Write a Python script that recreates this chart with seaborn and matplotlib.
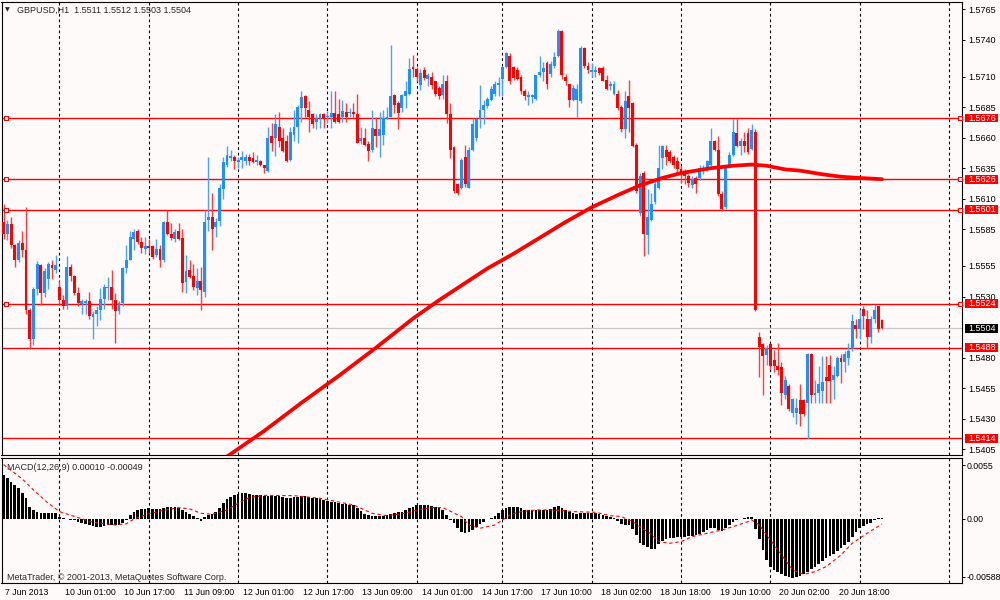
import numpy as np
import pandas as pd
import seaborn as sns
import matplotlib
matplotlib.use("Agg")
import matplotlib.pyplot as plt
import matplotlib.transforms as mtrans
from matplotlib.patches import Rectangle

# ---- data (GBPUSD H1, one value per hourly bar) ----
opens = [1.5591, 1.5581, 1.5589, 1.5572, 1.5560, 1.5574, 1.5568, 1.5519, 1.5495, 1.5536,
         1.5556, 1.5533, 1.5544, 1.5556, 1.5552, 1.5538, 1.5527, 1.5522, 1.5554, 1.5547,
         1.5533, 1.5524, 1.5525, 1.5526, 1.5513, 1.5516, 1.5519, 1.5528, 1.5537, 1.5538,
         1.5527, 1.5518, 1.5525, 1.5553, 1.5560, 1.5577, 1.5584, 1.5575, 1.5569, 1.5571,
         1.5571, 1.5564, 1.5569, 1.5560, 1.5591, 1.5581, 1.5577, 1.5584, 1.5578, 1.5542,
         1.5552, 1.5547, 1.5537, 1.5543, 1.5534, 1.5593, 1.5595, 1.5587, 1.5592, 1.5618,
         1.5638, 1.5643, 1.5644, 1.5640, 1.5642, 1.5641, 1.5644, 1.5643, 1.5640, 1.5641,
         1.5638, 1.5633, 1.5661, 1.5660, 1.5669, 1.5660, 1.5657, 1.5642, 1.5662, 1.5669,
         1.5684, 1.5694, 1.5683, 1.5679, 1.5673, 1.5676, 1.5679, 1.5677, 1.5677, 1.5680,
         1.5679, 1.5677, 1.5681, 1.5680, 1.5681, 1.5679, 1.5657, 1.5660, 1.5655, 1.5650,
         1.5667, 1.5661, 1.5662, 1.5675, 1.5677, 1.5695, 1.5688, 1.5684, 1.5694, 1.5696,
         1.5718, 1.5716, 1.5703, 1.5715, 1.5708, 1.5710, 1.5706, 1.5701, 1.5695, 1.5706,
         1.5679, 1.5652, 1.5622, 1.5619, 1.5644, 1.5619, 1.5650, 1.5660, 1.5675, 1.5683,
         1.5686, 1.5691, 1.5696, 1.5703, 1.5708, 1.5718, 1.5727, 1.5718, 1.5715, 1.5710,
         1.5698, 1.5693, 1.5693, 1.5692, 1.5711, 1.5714, 1.5721, 1.5712, 1.5719, 1.5727,
         1.5747, 1.5710, 1.5704, 1.5691, 1.5691, 1.5690, 1.5733, 1.5719, 1.5714, 1.5714,
         1.5717, 1.5717, 1.5707, 1.5702, 1.5696, 1.5696, 1.5685, 1.5667, 1.5694, 1.5688,
         1.5654, 1.5598, 1.5631, 1.5580, 1.5593, 1.5607, 1.5619, 1.5643, 1.5650, 1.5648,
         1.5644, 1.5641, 1.5634, 1.5633, 1.5629, 1.5621, 1.5627, 1.5627, 1.5633, 1.5634,
         1.5638, 1.5657, 1.5650, 1.5614, 1.5603, 1.5637, 1.5646, 1.5664, 1.5653, 1.5657,
         1.5664, 1.5651, 1.5665, 1.5497, 1.5491, 1.5482, 1.5491, 1.5478, 1.5473, 1.5472,
         1.5449, 1.5457, 1.5435, 1.5435, 1.5445, 1.5445, 1.5443, 1.5483, 1.5449, 1.5451,
         1.5453, 1.5464, 1.5474, 1.5462, 1.5465, 1.5480, 1.5476, 1.5480, 1.5487, 1.5507,
         1.5503, 1.5520, 1.5512, 1.5497, 1.5512, 1.5522, 1.5511]

highs = [1.5606, 1.5593, 1.5595, 1.5573, 1.5576, 1.5584, 1.5603, 1.5521, 1.5538, 1.5559,
         1.5557, 1.5553, 1.5558, 1.5560, 1.5564, 1.5543, 1.5531, 1.5563, 1.5557, 1.5548,
         1.5538, 1.5528, 1.5528, 1.5534, 1.5518, 1.5522, 1.5537, 1.5540, 1.5546, 1.5552,
         1.5533, 1.5526, 1.5554, 1.5572, 1.5584, 1.5585, 1.5585, 1.5579, 1.5579, 1.5577,
         1.5572, 1.5577, 1.5572, 1.5592, 1.5601, 1.5590, 1.5585, 1.5590, 1.5585, 1.5564,
         1.5560, 1.5557, 1.5553, 1.5554, 1.5601, 1.5644, 1.5615, 1.5594, 1.5622, 1.5644,
         1.5653, 1.5650, 1.5646, 1.5644, 1.5649, 1.5647, 1.5647, 1.5648, 1.5646, 1.5642,
         1.5638, 1.5669, 1.5672, 1.5679, 1.5681, 1.5668, 1.5662, 1.5669, 1.5683, 1.5687,
         1.5698, 1.5695, 1.5690, 1.5680, 1.5679, 1.5680, 1.5680, 1.5682, 1.5698, 1.5698,
         1.5692, 1.5691, 1.5688, 1.5684, 1.5688, 1.5696, 1.5669, 1.5668, 1.5657, 1.5683,
         1.5677, 1.5681, 1.5683, 1.5685, 1.5736, 1.5696, 1.5690, 1.5696, 1.5706, 1.5725,
         1.5728, 1.5718, 1.5716, 1.5718, 1.5713, 1.5714, 1.5706, 1.5702, 1.5711, 1.5711,
         1.5688, 1.5653, 1.5623, 1.5643, 1.5654, 1.5652, 1.5676, 1.5676, 1.5703, 1.5691,
         1.5693, 1.5702, 1.5706, 1.5710, 1.5719, 1.5730, 1.5729, 1.5719, 1.5718, 1.5711,
         1.5700, 1.5698, 1.5696, 1.5711, 1.5727, 1.5722, 1.5723, 1.5723, 1.5730, 1.5749,
         1.5748, 1.5712, 1.5704, 1.5703, 1.5704, 1.5735, 1.5734, 1.5722, 1.5721, 1.5719,
         1.5718, 1.5719, 1.5711, 1.5706, 1.5706, 1.5699, 1.5687, 1.5698, 1.5707, 1.5689,
         1.5656, 1.5631, 1.5633, 1.5618, 1.5615, 1.5626, 1.5654, 1.5654, 1.5654, 1.5650,
         1.5646, 1.5644, 1.5637, 1.5634, 1.5630, 1.5629, 1.5629, 1.5638, 1.5638, 1.5642,
         1.5668, 1.5658, 1.5661, 1.5616, 1.5638, 1.5648, 1.5675, 1.5675, 1.5660, 1.5665,
         1.5668, 1.5671, 1.5667, 1.5501, 1.5492, 1.5490, 1.5492, 1.5486, 1.5492, 1.5476,
         1.5465, 1.5458, 1.5447, 1.5447, 1.5458, 1.5446, 1.5484, 1.5484, 1.5462, 1.5473,
         1.5481, 1.5481, 1.5482, 1.5473, 1.5481, 1.5483, 1.5485, 1.5492, 1.5516, 1.5512,
         1.5520, 1.5522, 1.5519, 1.5514, 1.5523, 1.5522, 1.5512]

lows = [1.5577, 1.5576, 1.5570, 1.5554, 1.5558, 1.5562, 1.5516, 1.5487, 1.5490, 1.5531,
        1.5523, 1.5530, 1.5536, 1.5544, 1.5549, 1.5523, 1.5520, 1.5520, 1.5543, 1.5531,
        1.5522, 1.5516, 1.5516, 1.5512, 1.5495, 1.5506, 1.5511, 1.5520, 1.5527, 1.5520,
        1.5492, 1.5516, 1.5522, 1.5549, 1.5560, 1.5568, 1.5573, 1.5566, 1.5565, 1.5566,
        1.5561, 1.5562, 1.5554, 1.5558, 1.5580, 1.5576, 1.5575, 1.5576, 1.5534, 1.5533,
        1.5545, 1.5535, 1.5531, 1.5519, 1.5530, 1.5584, 1.5568, 1.5579, 1.5588, 1.5610,
        1.5636, 1.5641, 1.5634, 1.5635, 1.5635, 1.5638, 1.5638, 1.5639, 1.5638, 1.5637,
        1.5631, 1.5632, 1.5649, 1.5645, 1.5652, 1.5648, 1.5640, 1.5641, 1.5657, 1.5656,
        1.5673, 1.5677, 1.5665, 1.5668, 1.5667, 1.5668, 1.5668, 1.5672, 1.5668, 1.5672,
        1.5672, 1.5673, 1.5673, 1.5677, 1.5677, 1.5656, 1.5655, 1.5653, 1.5641, 1.5648,
        1.5652, 1.5644, 1.5654, 1.5675, 1.5677, 1.5680, 1.5667, 1.5681, 1.5684, 1.5695,
        1.5710, 1.5706, 1.5699, 1.5707, 1.5702, 1.5700, 1.5694, 1.5692, 1.5692, 1.5672,
        1.5643, 1.5615, 1.5613, 1.5618, 1.5620, 1.5619, 1.5649, 1.5657, 1.5668, 1.5671,
        1.5684, 1.5690, 1.5694, 1.5694, 1.5694, 1.5717, 1.5704, 1.5707, 1.5707, 1.5696,
        1.5691, 1.5687, 1.5688, 1.5691, 1.5710, 1.5706, 1.5700, 1.5710, 1.5717, 1.5726,
        1.5708, 1.5703, 1.5685, 1.5690, 1.5677, 1.5688, 1.5717, 1.5713, 1.5710, 1.5710,
        1.5711, 1.5706, 1.5699, 1.5699, 1.5695, 1.5683, 1.5665, 1.5660, 1.5665, 1.5652,
        1.5615, 1.5596, 1.5563, 1.5565, 1.5592, 1.5606, 1.5618, 1.5634, 1.5638, 1.5639,
        1.5635, 1.5631, 1.5623, 1.5622, 1.5620, 1.5619, 1.5615, 1.5625, 1.5630, 1.5633,
        1.5637, 1.5649, 1.5612, 1.5600, 1.5602, 1.5635, 1.5645, 1.5652, 1.5646, 1.5648,
        1.5647, 1.5650, 1.5518, 1.5464, 1.5449, 1.5474, 1.5471, 1.5468, 1.5466, 1.5441,
        1.5446, 1.5436, 1.5431, 1.5426, 1.5424, 1.5432, 1.5413, 1.5443, 1.5443, 1.5443,
        1.5443, 1.5443, 1.5443, 1.5446, 1.5464, 1.5459, 1.5468, 1.5474, 1.5485, 1.5496,
        1.5495, 1.5503, 1.5488, 1.5492, 1.5508, 1.5501, 1.5503]

closes = [1.5581, 1.5589, 1.5572, 1.5560, 1.5574, 1.5568, 1.5519, 1.5495, 1.5536, 1.5557,
          1.5533, 1.5551, 1.5557, 1.5553, 1.5556, 1.5527, 1.5522, 1.5554, 1.5547, 1.5533,
          1.5525, 1.5526, 1.5526, 1.5514, 1.5516, 1.5519, 1.5528, 1.5538, 1.5538, 1.5527,
          1.5518, 1.5525, 1.5553, 1.5560, 1.5579, 1.5583, 1.5575, 1.5570, 1.5571, 1.5570,
          1.5562, 1.5569, 1.5560, 1.5591, 1.5581, 1.5578, 1.5583, 1.5577, 1.5541, 1.5551,
          1.5546, 1.5538, 1.5543, 1.5535, 1.5591, 1.5595, 1.5585, 1.5591, 1.5619, 1.5640,
          1.5646, 1.5645, 1.5641, 1.5642, 1.5644, 1.5644, 1.5641, 1.5640, 1.5642, 1.5638,
          1.5635, 1.5660, 1.5656, 1.5671, 1.5657, 1.5649, 1.5641, 1.5665, 1.5669, 1.5685,
          1.5693, 1.5684, 1.5677, 1.5671, 1.5676, 1.5679, 1.5675, 1.5678, 1.5680, 1.5673,
          1.5673, 1.5682, 1.5677, 1.5681, 1.5679, 1.5656, 1.5660, 1.5654, 1.5649, 1.5668,
          1.5661, 1.5667, 1.5676, 1.5677, 1.5694, 1.5687, 1.5680, 1.5695, 1.5698, 1.5716,
          1.5716, 1.5710, 1.5713, 1.5709, 1.5711, 1.5703, 1.5696, 1.5694, 1.5704, 1.5679,
          1.5650, 1.5616, 1.5615, 1.5642, 1.5622, 1.5650, 1.5671, 1.5675, 1.5683, 1.5687,
          1.5692, 1.5700, 1.5704, 1.5705, 1.5718, 1.5729, 1.5706, 1.5709, 1.5708, 1.5698,
          1.5694, 1.5695, 1.5695, 1.5711, 1.5714, 1.5717, 1.5704, 1.5720, 1.5726, 1.5747,
          1.5711, 1.5706, 1.5691, 1.5701, 1.5700, 1.5733, 1.5719, 1.5715, 1.5715, 1.5715,
          1.5713, 1.5706, 1.5700, 1.5704, 1.5704, 1.5684, 1.5667, 1.5690, 1.5684, 1.5653,
          1.5616, 1.5629, 1.5581, 1.5595, 1.5606, 1.5622, 1.5635, 1.5653, 1.5644, 1.5641,
          1.5638, 1.5634, 1.5630, 1.5629, 1.5623, 1.5626, 1.5622, 1.5635, 1.5635, 1.5641,
          1.5657, 1.5650, 1.5614, 1.5602, 1.5637, 1.5646, 1.5665, 1.5653, 1.5657, 1.5653,
          1.5648, 1.5666, 1.5519, 1.5489, 1.5481, 1.5488, 1.5473, 1.5473, 1.5470, 1.5451,
          1.5462, 1.5438, 1.5446, 1.5439, 1.5434, 1.5434, 1.5483, 1.5449, 1.5451, 1.5458,
          1.5460, 1.5461, 1.5461, 1.5466, 1.5480, 1.5476, 1.5483, 1.5485, 1.5510, 1.5503,
          1.5512, 1.5514, 1.5497, 1.5512, 1.5519, 1.5503, 1.5504]

# moving average line (bar index, price), read at intervals along the red curve
ma_bars = [60, 70, 80, 90, 100, 110, 117, 124, 130, 137, 144, 151, 158, 165, 171,
           177, 182, 190, 196, 201, 205, 210, 214, 220, 225, 230, 236]
ma_vals = [1.5399, 1.5420, 1.5443, 1.5465, 1.5488, 1.5512, 1.5527, 1.5541, 1.5553,
           1.5565, 1.5578, 1.5591, 1.5603, 1.5613, 1.5621, 1.5627, 1.5631, 1.5635,
           1.5637, 1.5638, 1.5637, 1.5634, 1.5633, 1.5630, 1.5628, 1.5627, 1.5626]

# MACD main (histogram), in units of 0.0001
macd_main = [44.9, 41.5, 38.0, 34.7, 31.3, 26.2, 21.0, 12.6, 9.2, 7.5,
             5.8, 5.8, 5.8, 5.8, 5.8, 2.4, 0.7, 0.0, -0.7, -1.4,
             -2.7, -3.7, -5.1, -6.1, -7.1, -8.2, -7.8, -6.8, -6.5, -6.1,
             -6.1, -5.8, -4.4, -1.0, 4.1, 6.8, 8.8, 9.9, 10.5, 10.9,
             10.5, 9.9, 10.2, 11.6, 11.9, 12.2, 12.2, 11.6, 9.2, 6.8,
             4.8, 3.1, 1.4, -2.0, 2.4, 4.1, 5.1, 6.8, 11.6, 16.0,
             20.4, 22.8, 24.5, 25.9, 26.2, 26.2, 25.9, 24.5, 24.1, 24.1,
             23.8, 23.8, 23.8, 23.5, 23.1, 22.4, 21.8, 21.8, 22.1, 22.8,
             23.1, 23.1, 22.1, 21.8, 21.1, 20.0, 19.2, 18.5, 17.7, 17.0,
             16.3, 15.6, 15.0, 14.6, 14.3, 11.6, 8.5, 5.1, 3.7, 3.4,
             3.1, 3.1, 3.4, 4.1, 5.4, 6.5, 6.8, 7.5, 8.8, 10.9,
             12.6, 14.3, 14.6, 14.3, 14.3, 13.6, 12.6, 10.9, 8.8, 4.1,
             -1.0, -4.4, -9.5, -12.9, -13.9, -12.9, -10.9, -7.8, -5.4, -2.7,
             -0.3, 1.4, 3.4, 5.8, 8.8, 10.9, 11.9, 12.2, 11.9, 10.9,
             9.5, 8.8, 8.8, 9.2, 9.5, 9.5, 9.2, 10.2, 12.2, 13.3,
             10.9, 9.2, 7.5, 6.1, 5.1, 5.8, 6.1, 6.1, 6.1, 5.8,
             5.1, 4.1, 3.1, 2.0, 0.7, -2.0, -5.4, -6.1, -6.1, -10.2,
             -16.3, -24.0, -26.5, -29.0, -30.5, -30.6, -25.9, -22.4, -20.7, -19.7,
             -19.0, -18.7, -18.4, -18.0, -17.3, -17.0, -16.3, -15.0, -13.6, -11.2,
             -8.8, -9.5, -10.9, -11.9, -8.8, -6.1, -2.7, -1.4, -0.3, 0.7,
             1.7, 2.4, -10.2, -20.7, -31.6, -41.8, -48.6, -52.0, -54.4, -56.5,
             -58.5, -59.5, -59.9, -59.5, -57.8, -56.1, -53.7, -51.4, -48.6, -45.9,
             -42.9, -40.1, -37.4, -35.4, -32.3, -29.9, -26.5, -23.1, -18.0, -12.9,
             -8.8, -6.8, -5.1, -3.7, -1.4, 0.7, 1.0]

# MACD signal (dashed red), read at intervals, units of 0.0001
sig_bars = [0, 5, 8, 12, 15, 20, 24, 30, 33, 35, 39, 43, 47, 50, 53, 56, 60, 63, 66,
            70, 78, 85, 94, 99, 103, 108, 111, 115, 118, 123, 125, 128, 132, 134, 136,
            139, 143, 148, 153, 159, 163, 166, 169, 171, 174, 176, 179, 182, 185, 189,
            193, 196, 200, 201, 203, 205, 209, 212, 215, 218, 221, 225, 228, 232, 236]
sig_vals = [55.4, 40.8, 29.6, 16.0, 7.5, 1.4, -3.4, -6.1, -4.8, 0.0, 5.4, 8.8, 11.6,
            10.2, 5.8, 4.8, 9.2, 16.0, 21.8, 24.1, 23.8, 21.1, 14.3, 5.8, 3.4, 5.8,
            9.2, 11.6, 11.6, 2.4, -6.1, -9.5, -6.1, -1.0, 4.1, 7.5, 9.2, 9.2, 7.5, 6.8,
            3.4, 2.4, -2.7, -8.0, -15.5, -23.1, -24.8, -23.1, -18.0, -14.6, -11.2, -7.8,
            -2.7, -1.0, -6.1, -16.3, -36.7, -52.0, -56.5, -53.7, -48.6, -36.7, -24.8,
            -14.6, -5.1]

marked_levels = [1.5676, 1.5626, 1.5601, 1.5524]
plain_levels = [1.5488, 1.5414]
last_price = 1.5504
price_ticks = [1.5765, 1.5740, 1.5710, 1.5685, 1.5660, 1.5635, 1.5610, 1.5585,
               1.5555, 1.5530, 1.5480, 1.5455, 1.5430, 1.5405]
day_seps = [15, 39, 63, 87, 111, 134, 158, 182, 206, 230, 254]
time_ticks = [0, 16, 32, 48, 64, 80, 96, 112, 128, 144, 160, 176, 192, 208, 224]
time_labels = ["7 Jun 2013", "10 Jun 01:00", "10 Jun 17:00", "11 Jun 09:00",
               "12 Jun 01:00", "12 Jun 17:00", "13 Jun 09:00", "14 Jun 01:00",
               "14 Jun 17:00", "17 Jun 10:00", "18 Jun 02:00", "18 Jun 18:00",
               "19 Jun 10:00", "20 Jun 02:00", "20 Jun 18:00"]

# ---- drawing ----
BG = "#fffafa"
BLUE = "#1e90ff"
RED = "#ff0000"

sns.set_style("white")
plt.rcParams["font.family"] = ["Liberation Sans", "DejaVu Sans"]

df = pd.DataFrame({"o": opens, "h": highs, "l": lows, "c": closes})
df["bar"] = np.arange(len(df))
df["up"] = df["c"] >= df["o"]

fig = plt.figure(figsize=(10, 6), dpi=100, facecolor=BG)
ax = fig.add_axes([0.0015, 1 - 455 / 600, 0.9605, 453 / 600])
ax2 = fig.add_axes([0.0015, 1 - 583 / 600, 0.9605, 125 / 600])

for a in (ax, ax2):
    a.set_facecolor(BG)
    a.set_xlim(-0.58, 257.5)
    for s in a.spines.values():
        s.set_color("black")
        s.set_linewidth(0.8)
    for b in day_seps:
        a.axvline(b, color="black", lw=0.8, ls=(0, (2.5, 2.5)), zorder=0.5)

ax.set_ylim(1.54003, 1.57710)
ax2.set_ylim(-0.00653, 0.00622)

# horizontal levels
for lvl in marked_levels + plain_levels:
    ax.axhline(lvl, color=RED, lw=1.0, zorder=1)
for lvl in marked_levels:
    ax.plot([0.5, 257.0], [lvl, lvl], "s", ms=3.2, mfc=BG, mec=RED, mew=0.8,
            zorder=6, clip_on=False)
ax.axhline(last_price, color="#c8c8c8", lw=0.9, zorder=1)

# candles
wick_col = np.where(df["up"], "#4aa2ff", "#ff3c3c")
body_col = np.where(df["up"], BLUE, RED)
ax.vlines(df["bar"], df["l"], df["h"], colors=wick_col, lw=1.0, zorder=2)
body_lo = np.minimum(df["o"], df["c"])
body_h = np.maximum((df["c"] - df["o"]).abs(), 0.00008)
ax.bar(df["bar"], body_h, bottom=body_lo, width=0.78, color=body_col, lw=0, zorder=3)

# moving average
sns.lineplot(x=ma_bars, y=ma_vals, ax=ax, color=RED, lw=2.7, zorder=4,
             solid_capstyle="round")

# MACD panel
ax2.bar(np.arange(len(macd_main)), np.array(macd_main) * 1e-4, width=0.72,
        color="black", lw=0, zorder=2)
sns.lineplot(x=sig_bars, y=np.array(sig_vals) * 1e-4, ax=ax2, color=RED, lw=0.8,
             linestyle=(0, (3, 2.5)), zorder=3)

for a in (ax, ax2):
    a.set_xlabel("")
    a.set_ylabel("")

# price axis
ax.yaxis.tick_right()
ax.set_yticks(price_ticks)
ax.set_yticklabels([f"{v:.4f}" for v in price_ticks])
ax.tick_params(axis="y", direction="out", length=2.2, width=0.7, pad=2.2,
               labelsize=6.5, colors="black")
ax.tick_params(axis="x", bottom=False, labelbottom=False)

blend = mtrans.blended_transform_factory(ax.transAxes, ax.transData)
for lvl, fc in [(v, RED) for v in marked_levels + plain_levels] + [(last_price, "black")]:
    ax.add_patch(Rectangle((1.0035, lvl - 0.00036), 0.0345, 0.00072, transform=blend,
                           fc=fc, ec="none", clip_on=False, zorder=7))
    ax.text(1.0065, lvl, f"{lvl:.4f}", transform=blend, ha="left", va="center",
            fontsize=6.5, color="white", zorder=8, clip_on=False)

# MACD axis
ax2.yaxis.tick_right()
ax2.set_yticks([0.0055, 0.0, -0.00588])
ax2.set_yticklabels(["0.0055", "0.00", "-0.00588"])
ax2.tick_params(axis="y", direction="out", length=2.2, width=0.7, pad=1.0,
                labelsize=6.3, colors="black")
ax2.set_xticks(time_ticks)
ax2.set_xticklabels(time_labels)
ax2.tick_params(axis="x", direction="out", length=2.9, width=0.7, pad=0.6,
                labelsize=6.3, colors="black")
shift = mtrans.ScaledTranslation(1.5 / 100, 0, fig.dpi_scale_trans)
for lbl in ax2.get_xticklabels():
    lbl.set_horizontalalignment("left")
    lbl.set_transform(lbl.get_transform() + shift)

# texts
fig.text(5 / 1000, 1 - 9.5 / 600, "\u25bc", fontsize=4.5, va="center",
         family="DejaVu Sans")
fig.text(17 / 1000, 1 - 10 / 600, "GBPUSD,H1  1.5511 1.5512 1.5503 1.5504",
         fontsize=6.5, va="center")
fig.text(7 / 1000, 1 - 467 / 600, "MACD(12,26,9) 0.00010 -0.00049", fontsize=6.5,
         va="center")
fig.text(7 / 1000, 1 - 577 / 600, "MetaTrader, \u00a9 2001-2013, MetaQuotes Software Corp.",
         fontsize=6.5, va="center")

fig.savefig("out.png", dpi=100, facecolor=BG)
